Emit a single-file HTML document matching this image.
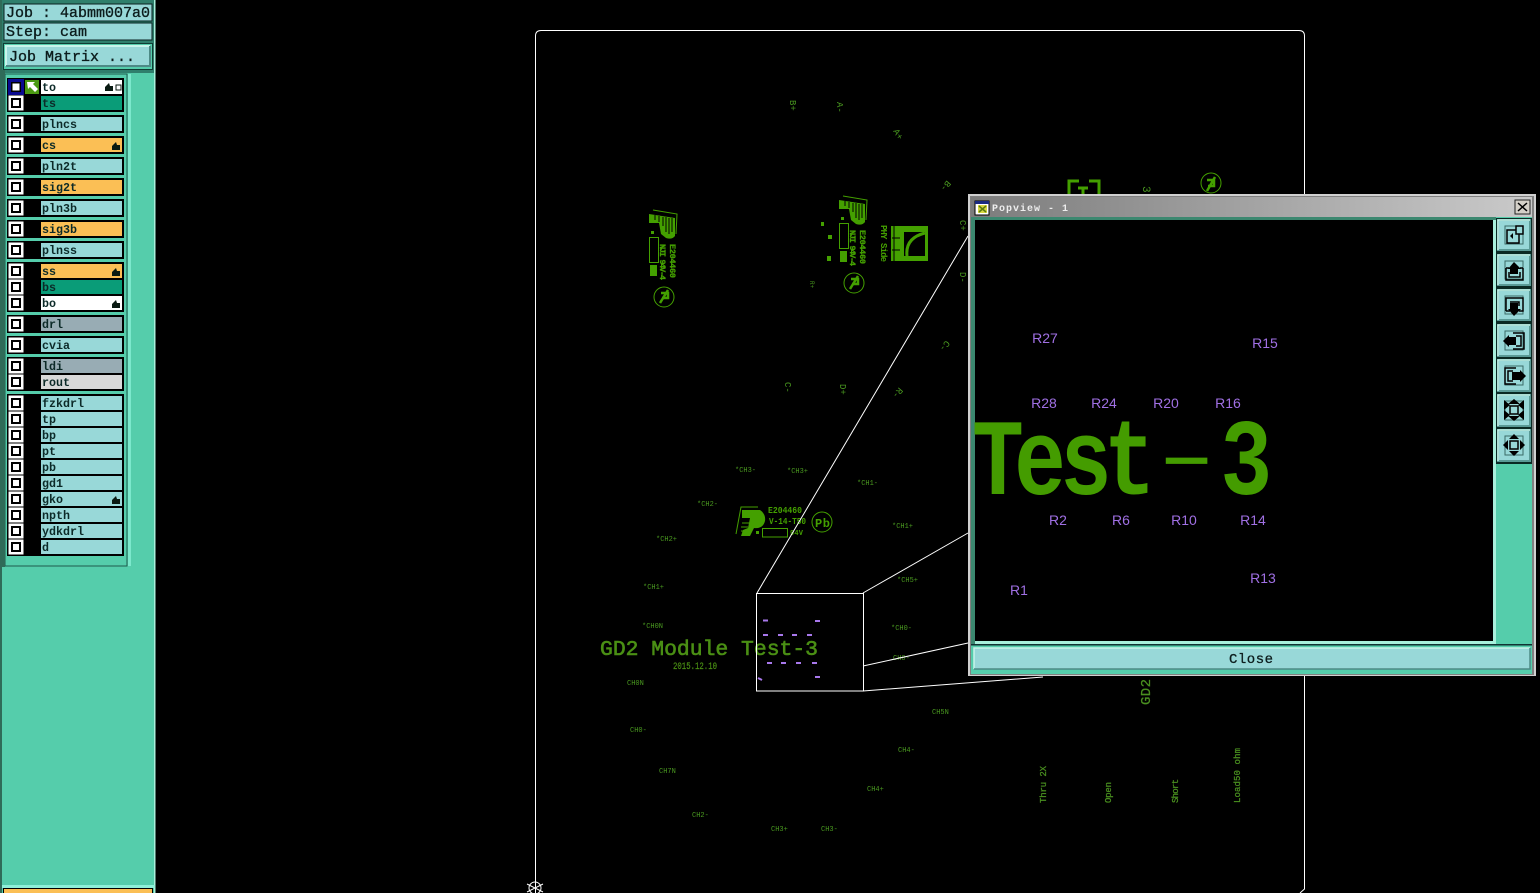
<!DOCTYPE html>
<html><head><meta charset="utf-8"><title>Popview</title>
<style>
html,body{margin:0;padding:0;background:#000;width:1540px;height:893px;overflow:hidden}
svg{display:block}
text{font-family:"Liberation Mono",monospace}
.l{font-size:11.67px;font-weight:bold;fill:#0c2a28}
.h{font-size:15px;fill:#0c1c1c;stroke:#0c1c1c;stroke-width:.35}
.c{font-size:7px;fill:#4a9a20}
.r{font-family:"Liberation Sans",sans-serif;font-size:14px;fill:#a070e4;text-anchor:middle}
</style></head><body>
<svg width="1540" height="893" viewBox="0 0 1540 893" xmlns="http://www.w3.org/2000/svg">
<defs>
<g id="cb"><rect x="-7.500" y="-7.500" width="15" height="15" fill="#fff"/><rect x="-5" y="-5" width="10" height="10" fill="#000"/><rect x="-3" y="-3" width="6" height="6" fill="#fff"/></g>
<path id="hd" d="M-4 4V0L0-4 1-1 4-1V4Z" fill="#0a1a12"/>
<g id="logo">
<path d="M653 210L677 214 676 234" fill="none" stroke="#44a000" stroke-width="1"/>
<path d="M649 214L675 218V236Q672 240 666 238L661 234 659 223 649 223Z" fill="#44a000"/>
<path d="M655 215V220M659 216V222M663 217V226M666 217V232M669 218V234M672 218V232" stroke="#000" stroke-width="1"/>
<rect x="649.500" y="237.500" width="9" height="25" fill="none" stroke="#44a000"/>
<rect x="650" y="265" width="7" height="11" fill="#44a000"/>
<rect x="651" y="231" width="3" height="3" fill="#44a000"/>
<text transform="translate(670,244) rotate(90)" font-size="8.500" fill="#44a000" font-weight="bold" stroke="#44a000" stroke-width=".3" textLength="34">E204460</text>
<text transform="translate(660,244) rotate(90)" font-size="8.500" fill="#44a000" font-weight="bold" stroke="#44a000" stroke-width=".3" textLength="36">NJI 94V-4</text>
<circle cx="664" cy="297" r="10" fill="none" stroke="#44a000"/>
<path d="M660 303L668 290M661 293H668V298H662" stroke="#44a000" stroke-width="2.500" fill="none"/>
</g>
</defs>

<rect width="1540" height="893" fill="#000"/>

<!-- board outline -->
<path d="M535.500 893V36Q535.500 30.500 541 30.500H1299Q1304.500 30.500 1304.500 36V889L1300 893" fill="none" stroke="#fff"/>
<path d="M527 884L543 892M543 884L527 892" stroke="#fff"/>
<circle cx="535" cy="888" r="6" fill="none" stroke="#fff"/>

<!-- logos -->
<use href="#logo"/>
<use href="#logo" transform="translate(190,-14)"/>
<text transform="translate(881,225) rotate(90)" font-size="9" fill="#44a000" font-weight="bold" textLength="37">PHY Side</text>
<rect x="891" y="226" width="37" height="35" fill="#44a000"/>
<rect x="904" y="232" width="21" height="24" fill="#000"/>
<path d="M907 256Q905 238 925 233" stroke="#44a000" stroke-width="3" fill="none"/>
<path d="M894 226V261M900 238H892M900 250H892" stroke="#000"/>
<rect x="821" y="222" width="3" height="4" fill="#44a000"/><rect x="828" y="235" width="4" height="4" fill="#44a000"/><rect x="827" y="256" width="4" height="5" fill="#44a000"/>

<!-- small rotated labels -->
<g font-size="9" fill="#4a9a20">
<text transform="translate(790,100) rotate(90)">B+</text>
<text transform="translate(837,102) rotate(90)">A-</text>
<text transform="translate(893,131) rotate(60)">A+</text>
<text transform="translate(947,180) rotate(130)">B-</text>
<text transform="translate(960,220) rotate(90)">C+</text>
<text transform="translate(960,272) rotate(90)">D-</text>
<text transform="translate(810,281) rotate(90)" font-size="6">R+</text>
<text transform="translate(946,340) rotate(130)">C-</text>
<text transform="translate(785,382) rotate(90)">C-</text>
<text transform="translate(840,384) rotate(90)">D+</text>
<text transform="translate(899,387) rotate(130)">R-</text>
</g>

<!-- top-right under popup -->
<path d="M1069 196V181H1079M1089 181H1099V196" fill="none" stroke="#44a000" stroke-width="3"/>
<path d="M1078 188H1088M1083 188V196" stroke="#44a000" stroke-width="3"/>
<text transform="translate(1143,186) rotate(90)" font-size="11" fill="#4a9a20">3</text>
<circle cx="1211" cy="183" r="10" fill="none" stroke="#44a000"/>
<path d="M1207 191L1215 177M1207 180H1214V186H1208" stroke="#44a000" stroke-width="2.500" fill="none"/>

<!-- bottom logo -->
<path d="M736 534L741 507H758" fill="none" stroke="#44a000"/>
<path d="M742 510H760Q766 514 765 521 763 529 754 528L750 536H741L743 530 748 528 750 518 742 518Z" fill="#44a000"/>
<path d="M743 513H752M742 523H749M741 527H748M741 531H747" stroke="#44a000"/>
<rect x="762.500" y="528.500" width="25" height="8.500" fill="none" stroke="#44a000"/>
<rect x="756" y="531" width="3" height="3" fill="#44a000"/>
<text x="768" y="513" font-size="9" fill="#44a000" font-weight="bold" textLength="34" lengthAdjust="spacingAndGlyphs">E204460</text>
<text x="769" y="524" font-size="9" fill="#44a000" font-weight="bold" textLength="37" lengthAdjust="spacingAndGlyphs">V-14-T50</text>
<text x="790" y="535" font-size="7" fill="#44a000" font-weight="bold" textLength="13">94V</text>
<circle cx="822" cy="522" r="10" fill="none" stroke="#44a000"/>
<text x="815" y="527" font-size="12" fill="#44a000" font-weight="bold" textLength="15">Pb</text>

<!-- CH labels -->
<g>
<text class="c" x="735" y="472">*CH3-</text><text class="c" x="787" y="473">*CH3+</text>
<text class="c" x="857" y="485">*CH1-</text><text class="c" x="697" y="506">*CH2-</text>
<text class="c" x="892" y="528">*CH1+</text><text class="c" x="656" y="541">*CH2+</text>
<text class="c" x="643" y="589">*CH1+</text><text class="c" x="897" y="582">*CH5+</text>
<text class="c" x="642" y="628">*CH0N</text><text class="c" x="891" y="630">*CH0-</text>
<text class="c" x="893" y="660">CH0-</text><text class="c" x="627" y="685">CH0N</text>
<text class="c" x="932" y="714">CH5N</text><text class="c" x="630" y="732">CH0-</text>
<text class="c" x="659" y="773">CH7N</text><text class="c" x="898" y="752">CH4-</text>
<text class="c" x="867" y="791">CH4+</text><text class="c" x="692" y="817">CH2-</text>
<text class="c" x="771" y="831">CH3+</text><text class="c" x="821" y="831">CH3-</text>
</g>

<!-- title -->
<text x="600" y="655" font-size="21" fill="#4a8f14" stroke="#4a8f14" stroke-width=".6" textLength="218" lengthAdjust="spacingAndGlyphs">GD2 Module Test-3</text>
<text x="673" y="669" font-size="10" fill="#4a8f14" stroke="#4a8f14" stroke-width=".2" textLength="44" lengthAdjust="spacingAndGlyphs">2015.12.10</text>

<!-- rotated bottom labels -->
<g fill="#4a9020" stroke="#4a9020" stroke-width=".25">
<text transform="translate(1150,705) rotate(-90)" font-size="14" textLength="26">GD2</text>
<text transform="translate(1046,803) rotate(-90)" font-size="9" textLength="37">Thru 2X</text>
<text transform="translate(1111,803) rotate(-90)" font-size="9" textLength="21">Open</text>
<text transform="translate(1178,803) rotate(-90)" font-size="9" textLength="24">Short</text>
<text transform="translate(1240,803) rotate(-90)" font-size="9" textLength="55">Load50 ohm</text>
</g>

<!-- zoom box and connectors -->
<rect x="756.500" y="593.500" width="107" height="97.500" fill="none" stroke="#fff"/>
<path d="M757 593L968 236M863 593L968 533M863 666L968 643M863 691L1043 677" stroke="#fff" fill="none"/>
<path d="M763 620.500h5M815 621h5M763 635h5M778 635h5M792 635h5M807 635h5M767 663h5M781 663h5M796 663h5M812 663h5M758 678l4 2M815 677h5" stroke="#a878ec" stroke-width="2"/>

<!-- left panel -->
<rect x="0" y="0" width="155" height="893" fill="#55cdab"/>
<rect x="0" y="0" width="2" height="893" fill="#2f6b58"/>
<rect x="154" y="0" width="1.500" height="893" fill="#a8f0dc"/>
<rect x="2" y="0" width="152" height="73" fill="#2f7f6c"/>
<rect x="4" y="4" width="148" height="17" fill="#98d8d8" stroke="#0a2020" stroke-width="1"/>
<rect x="4" y="23" width="148" height="17" fill="#98d8d8" stroke="#0a2020" stroke-width="1"/>
<rect x="3.500" y="43.500" width="149" height="26" fill="#55cdab" stroke="#0f3d34"/>
<rect x="6" y="46" width="144" height="20" fill="#98d8d8"/>
<path d="M6 66V46H150" fill="none" stroke="#c8f4ea" stroke-width="2"/>
<path d="M6 66H150V46" fill="none" stroke="#4d8a86" stroke-width="2"/>
<text class="h" x="6" y="17">Job : 4abmm007a0</text>
<text class="h" x="6" y="36">Step: cam</text>
<text class="h" x="9" y="61">Job Matrix ...</text>

<rect x="2" y="73" width="126" height="493" fill="#55cdab"/>
<path d="M5 566V74H127V566H5" fill="none" stroke="#1f5a4c"/>
<rect x="2" y="70" width="3" height="497" fill="#2f6b58"/>
<rect x="128" y="74" width="3" height="492" fill="#7ce8cc"/>
<rect x="2" y="567" width="3" height="317" fill="#55cdab"/>

<!-- layer group backgrounds -->
<g fill="#000">
<rect x="7" y="78" width="117" height="34"/><rect x="7" y="115" width="117" height="18"/>
<rect x="7" y="136" width="117" height="18"/><rect x="7" y="157" width="117" height="18"/>
<rect x="7" y="178" width="117" height="18"/><rect x="7" y="199" width="117" height="18"/>
<rect x="7" y="220" width="117" height="18"/><rect x="7" y="241" width="117" height="18"/>
<rect x="7" y="262" width="117" height="50"/><rect x="7" y="315" width="117" height="18"/>
<rect x="7" y="336" width="117" height="18"/><rect x="7" y="357" width="117" height="34"/>
<rect x="7" y="394" width="117" height="162"/>
</g>

<!-- row fills -->
<g fill="#98d8d8">
<rect x="41" y="80" width="81" height="14" fill="#fff"/>
<rect x="41" y="96" width="81" height="14" fill="#0a9c78"/>
<rect x="41" y="117" width="81" height="14"/>
<rect x="41" y="138" width="81" height="14" fill="#fbbf55"/>
<rect x="41" y="159" width="81" height="14"/>
<rect x="41" y="180" width="81" height="14" fill="#fbbf55"/>
<rect x="41" y="201" width="81" height="14"/>
<rect x="41" y="222" width="81" height="14" fill="#fbbf55"/>
<rect x="41" y="243" width="81" height="14"/>
<rect x="41" y="264" width="81" height="14" fill="#fbbf55"/>
<rect x="41" y="280" width="81" height="14" fill="#0a9c78"/>
<rect x="41" y="296" width="81" height="14" fill="#fff"/>
<rect x="41" y="317" width="81" height="14" fill="#98acb4"/>
<rect x="41" y="338" width="81" height="14"/>
<rect x="41" y="359" width="81" height="14" fill="#98acb4"/>
<rect x="41" y="375" width="81" height="14" fill="#d8d8d8"/>
<rect x="41" y="396" width="81" height="14"/><rect x="41" y="412" width="81" height="14"/>
<rect x="41" y="428" width="81" height="14"/><rect x="41" y="444" width="81" height="14"/>
<rect x="41" y="460" width="81" height="14"/><rect x="41" y="476" width="81" height="14"/>
<rect x="41" y="492" width="81" height="14"/><rect x="41" y="508" width="81" height="14"/>
<rect x="41" y="524" width="81" height="14"/><rect x="41" y="540" width="81" height="14"/>
</g>

<!-- "to" row extras -->
<rect x="8" y="79" width="16" height="16" fill="#0a0a90"/>
<rect x="11" y="82" width="10" height="10" fill="#000"/><rect x="12.500" y="83.500" width="7" height="7" fill="#fff"/>
<rect x="25" y="80" width="14" height="14" fill="#4a9a12"/>
<path d="M27 82H35L33 84 38 89 35 92 30 87 28 89Z" fill="#fff"/>
<use href="#hd" x="109" y="87"/>
<rect x="116" y="85" width="5" height="5" fill="none" stroke="#0a1a12"/>

<!-- checkboxes -->
<use href="#cb" x="16" y="103"/><use href="#cb" x="16" y="124"/><use href="#cb" x="16" y="145"/>
<use href="#cb" x="16" y="166"/><use href="#cb" x="16" y="187"/><use href="#cb" x="16" y="208"/>
<use href="#cb" x="16" y="229"/><use href="#cb" x="16" y="250"/><use href="#cb" x="16" y="271"/>
<use href="#cb" x="16" y="287"/><use href="#cb" x="16" y="303"/><use href="#cb" x="16" y="324"/>
<use href="#cb" x="16" y="345"/><use href="#cb" x="16" y="366"/><use href="#cb" x="16" y="382"/>
<use href="#cb" x="16" y="403"/><use href="#cb" x="16" y="419"/><use href="#cb" x="16" y="435"/>
<use href="#cb" x="16" y="451"/><use href="#cb" x="16" y="467"/><use href="#cb" x="16" y="483"/>
<use href="#cb" x="16" y="499"/><use href="#cb" x="16" y="515"/><use href="#cb" x="16" y="531"/>
<use href="#cb" x="16" y="547"/>

<use href="#hd" x="116" y="146"/><use href="#hd" x="116" y="272"/><use href="#hd" x="116" y="304"/><use href="#hd" x="116" y="500"/>

<!-- layer labels -->
<text class="l" x="42" y="91">to</text><text class="l" x="42" y="107">ts</text>
<text class="l" x="42" y="128">plncs</text><text class="l" x="42" y="149">cs</text>
<text class="l" x="42" y="170">pln2t</text><text class="l" x="42" y="191">sig2t</text>
<text class="l" x="42" y="212">pln3b</text><text class="l" x="42" y="233">sig3b</text>
<text class="l" x="42" y="254">plnss</text><text class="l" x="42" y="275">ss</text>
<text class="l" x="42" y="291">bs</text><text class="l" x="42" y="307">bo</text>
<text class="l" x="42" y="328">drl</text><text class="l" x="42" y="349">cvia</text>
<text class="l" x="42" y="370">ldi</text><text class="l" x="42" y="386">rout</text>
<text class="l" x="42" y="407">fzkdrl</text><text class="l" x="42" y="423">tp</text>
<text class="l" x="42" y="439">bp</text><text class="l" x="42" y="455">pt</text>
<text class="l" x="42" y="471">pb</text><text class="l" x="42" y="487">gd1</text>
<text class="l" x="42" y="503">gko</text><text class="l" x="42" y="519">npth</text>
<text class="l" x="42" y="535">ydkdrl</text><text class="l" x="42" y="551">d</text>

<!-- panel bottom -->
<rect x="2" y="885" width="153" height="3" fill="#8ef0d8"/>
<rect x="3" y="888" width="150" height="5" fill="#000"/>
<rect x="4" y="889" width="148" height="4" fill="#fbbf55"/>

<!-- popup window -->
<rect x="968" y="194" width="568" height="482" fill="#d0d0d0"/>
<rect x="970" y="196" width="564" height="479" fill="#808080"/>
<rect x="971" y="197" width="561" height="477" fill="#55cdab"/>
<defs><linearGradient id="tb" x1="0" x2="1" y1="0" y2="0"><stop offset="0" stop-color="#7c7c7c"/><stop offset="1" stop-color="#cacaca"/></linearGradient></defs>
<rect x="971" y="197" width="561" height="20" fill="url(#tb)"/>
<rect x="975" y="201" width="14" height="14" fill="#fff" stroke="#000"/>
<rect x="975" y="201" width="14" height="3" fill="#1a2a80"/>
<rect x="978" y="205" width="9" height="8" fill="#d8d840"/>
<path d="M979 206L986 212M986 206L979 212" stroke="#5a7a10" stroke-width="1.500"/>
<text x="992" y="211" font-size="10" font-weight="bold" fill="#eee" textLength="76">Popview - 1</text>
<rect x="1515" y="200" width="15" height="14" fill="#d4d0c8" stroke="#222"/>
<path d="M1518 203L1527 211M1527 203L1518 211" stroke="#000" stroke-width="1.500"/>
<rect x="971" y="217" width="525" height="3" fill="#3c8870"/>
<rect x="971" y="217" width="4" height="427" fill="#3c8870"/>
<rect x="975" y="220" width="518" height="421" fill="#000"/>
<rect x="1493" y="220" width="3" height="424" fill="#a8f0dc"/>
<rect x="975" y="641" width="521" height="3" fill="#a8f0dc"/>
<rect x="971" y="644" width="561" height="1.500" fill="#133"/>
<rect x="974" y="648" width="556" height="21" fill="#98d8d8"/>
<path d="M974 669V648H1530" fill="none" stroke="#c8f4ea" stroke-width="1.500"/>
<path d="M974 669H1530V648" fill="none" stroke="#4d8a86" stroke-width="1.500"/>
<text x="1229" y="663" font-size="14" fill="#0c1c1c" stroke="#0c1c1c" stroke-width=".3" textLength="44">Close</text>

<!-- popup content -->
<g font-weight="bold" font-size="80" fill="#449c00">
<text transform="translate(0,494) scale(1.08,1.36)" x="900 939 981.500 1022" y="0">Test</text>
<text transform="translate(0,494) scale(1.08,1.36)" x="1130" y="0">3</text>
</g>
<text transform="translate(1141,482) scale(1.9,1)" x="0" y="0" font-size="80" fill="#449c00">-</text>
<text class="r" x="1045" y="343">R27</text><text class="r" x="1265" y="348">R15</text>
<text class="r" x="1044" y="408">R28</text><text class="r" x="1104" y="408">R24</text>
<text class="r" x="1166" y="408">R20</text><text class="r" x="1228" y="408">R16</text>
<text class="r" x="1058" y="525">R2</text><text class="r" x="1121" y="525">R6</text>
<text class="r" x="1184" y="525">R10</text><text class="r" x="1253" y="525">R14</text>
<text class="r" x="1019" y="595">R1</text><text class="r" x="1263" y="583">R13</text>

<!-- tool buttons -->
<rect x="1496" y="218" width="36" height="246" fill="#0a2a24"/>
<g fill="#98d8d8" stroke="#5a9a96" stroke-width="2">
<rect x="1498" y="220" width="32" height="30"/><rect x="1498" y="255" width="32" height="30"/>
<rect x="1498" y="290" width="32" height="30"/><rect x="1498" y="325" width="32" height="31"/>
<rect x="1498" y="360" width="32" height="31"/><rect x="1498" y="395" width="32" height="31"/>
<rect x="1498" y="430" width="32" height="31"/>
</g>
<g fill="none" stroke="#c8f4ea" stroke-width="1.500">
<path d="M1498 250V220H1530M1498 285V255H1530M1498 320V290H1530M1498 356V325H1530M1498 391V360H1530M1498 426V395H1530M1498 461V430H1530"/>
</g>
<g fill="none" stroke="#000" stroke-width="1.500">
<rect x="1505" y="226" width="18" height="18" stroke="#3a6a66" stroke-width="1"/>
<rect x="1505" y="261" width="18" height="18" stroke="#3a6a66" stroke-width="1"/>
<rect x="1505" y="296" width="18" height="18" stroke="#3a6a66" stroke-width="1"/>
<rect x="1505" y="331" width="18" height="19" stroke="#3a6a66" stroke-width="1"/>
<rect x="1505" y="366" width="18" height="19" stroke="#3a6a66" stroke-width="1"/>
<rect x="1505" y="401" width="18" height="19" stroke="#3a6a66" stroke-width="1"/>
<rect x="1505" y="436" width="18" height="19" stroke="#3a6a66" stroke-width="1"/>
<rect x="1507" y="230" width="12" height="13"/><rect x="1516" y="226" width="7" height="8" fill="#98d8d8"/>
<path d="M1506 268H1509M1520 268H1523M1506 268V280H1523V268M1509 272V277H1520V272"/>
<path d="M1506 311V298H1523V311H1519M1510 311H1506M1510 302H1519V306"/>
<path d="M1513 333H1524V349H1513M1516 336H1521V346H1516"/>
<path d="M1516 368H1505V384H1516M1513 371H1508V381H1513"/>
<rect x="1510" y="406" width="8" height="8"/>
<rect x="1510" y="441" width="8" height="8"/>
</g>
<g fill="#000">
<path d="M1514 262L1521 269H1508Z"/><rect x="1510" y="268" width="8" height="6"/>
<path d="M1514 316L1521 309H1508Z"/><rect x="1510" y="303" width="8" height="6"/>
<path d="M1503 341L1509 335V347Z"/><rect x="1508" y="337" width="8" height="8"/>
<path d="M1526 376L1520 370V382Z"/><rect x="1512" y="372" width="8" height="8"/>
<path d="M1504 400L1510 405 1504 410ZM1524 400L1518 405 1524 410ZM1504 420L1510 415 1504 410ZM1524 420L1518 415 1524 410ZM1514 399L1520 404H1508ZM1514 421L1520 416H1508Z"/>
<path d="M1514 434L1519 439H1509ZM1514 456L1519 451H1509ZM1503 445L1508 440V450ZM1525 445L1520 440V450Z"/>
<path d="M1510 236L1513 233V239Z"/>
</g>
</svg>
</body></html>
